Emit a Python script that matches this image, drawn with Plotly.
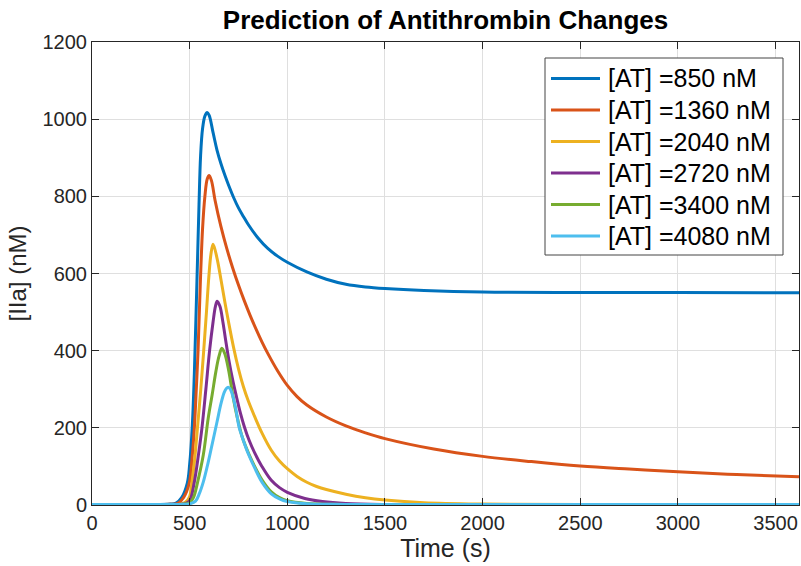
import plotly.graph_objects as go

# Simulated thrombin ([IIa], nM) over time (s) for six antithrombin levels
t_850 = [0, 300, 400, 430, 460, 488, 500, 514, 524, 532, 540, 548, 556, 566, 578, 590, 600, 620, 640,
         660, 680, 700, 725, 750, 775, 800, 850, 900, 950, 1000, 1100, 1200, 1300, 1400, 1500, 1700,
         2000, 2500, 3000, 3620]
v_850 = [0.5, 1, 2.5, 5, 20, 57, 105, 210, 340, 480, 630, 780, 905, 975, 1008, 1017, 1010, 965, 920,
         885, 855, 828, 797, 770, 748, 727, 692, 665, 645, 629, 604, 585, 572, 565, 561, 556,
         552, 551, 551, 550]

t_1360 = [0, 300, 400, 440, 470, 498, 512, 524, 534, 543, 555, 566, 578, 590, 600, 612, 630, 660, 690,
          720, 750, 780, 810, 840, 870, 900, 950, 1000, 1050, 1100, 1200, 1300, 1400, 1500, 1750, 2000,
          2250, 2500, 2750, 3000, 3300, 3620]
v_1360 = [0.5, 1, 2, 4, 20, 57, 120, 200, 300, 400, 580, 715, 800, 845, 854, 840, 790, 722, 665,
          615, 570, 529, 491, 456, 423, 393, 348, 310, 281, 259, 228, 205, 187, 172, 145, 126,
          112.5, 101, 93, 86, 79, 73]

t_2040 = [0, 300, 420, 450, 480, 500, 512, 526, 540, 557, 572, 586, 598, 609, 620, 640, 660, 680, 700,
          725, 750, 775, 800, 833, 870, 918, 960, 1000, 1050, 1100, 1150, 1200, 1300, 1400, 1500, 1700,
          2000, 2500, 3620]
v_2040 = [0.5, 1, 1.5, 2, 8, 22, 60, 120, 200, 300, 400, 500, 590, 650, 676, 640, 585, 527, 472,
          408, 353, 307, 270, 229, 187, 142, 114, 94, 74, 59, 48, 40, 28, 19, 13, 6,
          2.5, 1, 0.5]

t_2720 = [0, 300, 450, 480, 501, 524, 545, 563, 583, 602, 620, 632, 641, 655, 670, 685, 700, 720, 740,
          760, 780, 805, 833, 870, 918, 960, 1000, 1090, 1180, 1300, 1500, 2000, 3620]
v_2720 = [0.5, 0.8, 1.5, 4, 12, 60, 130, 200, 300, 400, 475, 515, 528, 515, 475, 425, 378, 325, 280,
          238, 203, 167, 135, 100, 64, 45, 33, 17, 9, 4, 1.5, 0.8, 0.5]

t_3400 = [0, 300, 450, 500, 520, 541, 570, 595, 615, 634, 650, 665, 680, 700, 718, 735, 753, 770, 790,
          805, 833, 872, 918, 960, 1000, 1100, 1300, 3620]
v_3400 = [0.5, 0.8, 1.5, 6, 20, 60, 130, 225, 285, 345, 385, 406, 392, 348, 293, 247, 207, 175, 148,
          130, 100, 64, 34, 19, 11, 4, 1.5, 0.5]

t_4080 = [0, 300, 450, 500, 530, 550, 570, 590, 612, 640, 660, 677, 688, 697, 706, 715, 735, 753, 770,
          787, 805, 833, 872, 918, 960, 1000, 1100, 1300, 3620]
v_4080 = [1, 1, 1.5, 3, 10, 30, 60, 100, 150, 215, 262, 292, 302, 305, 302, 292, 252, 202, 175,
          150, 127, 96, 58, 29, 16, 9, 3, 1.5, 1]

series_names = ["[AT] =850 nM", "[AT] =1360 nM", "[AT] =2040 nM",
                "[AT] =2720 nM", "[AT] =3400 nM", "[AT] =4080 nM"]
series_t = [t_850, t_1360, t_2040, t_2720, t_3400, t_4080]
series_v = [v_850, v_1360, v_2040, v_2720, v_3400, v_4080]
colors = ["#0072BD", "#D95319", "#EDB120", "#7E2F8E", "#77AC30", "#4DBEEE"]

x_ticks = [0, 500, 1000, 1500, 2000, 2500, 3000, 3500]
y_ticks = [0, 200, 400, 600, 800, 1000, 1200]

FONT = "Liberation Sans, Arial, Helvetica, sans-serif"
AX = "#262626"
GRID = "#dfdfdf"

W, H = 801, 566
ML, MR, MT, MB = 92, 2, 42, 61
PW, PH = W - ML - MR, H - MT - MB


def px_x(px):
    """Pixel column -> paper x."""
    return (px - ML) / PW


def px_y(py):
    """Pixel row (from top) -> paper y."""
    return (H - MB - py) / PH


fig = go.Figure()
for name, t, v, c in zip(series_names, series_t, series_v, colors):
    fig.add_trace(go.Scatter(
        x=t, y=v, name=name, mode="lines", showlegend=False,
        line=dict(color=c, width=3, shape="spline", smoothing=1.0),
    ))

# Boxed legend in the upper-right corner of the axes
LEG_LEFT, LEG_RIGHT, LEG_TOP, LEG_BOTTOM = 545, 783, 58, 255
ROW0, ROW_STEP = 78.5, 31.5
SAMPLE_X0, SAMPLE_X1, TEXT_X = 551, 600, 606

shapes = [dict(type="rect", xref="paper", yref="paper", layer="above",
               x0=px_x(LEG_LEFT), x1=px_x(LEG_RIGHT), y0=px_y(LEG_BOTTOM), y1=px_y(LEG_TOP),
               fillcolor="white", line=dict(color="#444444", width=1))]
annotations = []
for i, (name, c) in enumerate(zip(series_names, colors)):
    yc = px_y(ROW0 + i * ROW_STEP)
    shapes.append(dict(type="line", xref="paper", yref="paper", layer="above",
                       x0=px_x(SAMPLE_X0), x1=px_x(SAMPLE_X1), y0=yc, y1=yc,
                       line=dict(color=c, width=3)))
    annotations.append(dict(xref="paper", yref="paper", x=px_x(TEXT_X), y=yc,
                            xanchor="left", yanchor="middle", showarrow=False, text=name,
                            font=dict(family=FONT, size=25, color="black")))

axis_common = dict(
    showline=True, linecolor=AX, linewidth=1, mirror="allticks",
    ticks="inside", ticklen=7, tickcolor=AX, tickwidth=1,
    showgrid=True, gridcolor=GRID, gridwidth=1, zeroline=False,
    tickfont=dict(family=FONT, size=20, color=AX),
)

fig.update_layout(
    width=W, height=H,
    margin=dict(l=ML, r=MR, t=MT, b=MB),
    paper_bgcolor="white", plot_bgcolor="white",
    title=dict(text="<b>Prediction of Antithrombin Changes</b>",
               font=dict(family=FONT, size=26, color="black"),
               x=0.5, xref="paper", xanchor="center", y=1 - 20 / H, yanchor="middle"),
    xaxis=dict(range=[0, 3620], tickvals=x_ticks,
               title=dict(text="Time (s)", font=dict(family=FONT, size=25, color=AX), standoff=5),
               **axis_common),
    yaxis=dict(range=[0, 1200], tickvals=y_ticks,
               title=dict(text="[IIa] (nM)", font=dict(family=FONT, size=24, color=AX), standoff=9),
               **axis_common),
    shapes=shapes,
    annotations=annotations,
    showlegend=False,
)

fig.write_html("out.html")
